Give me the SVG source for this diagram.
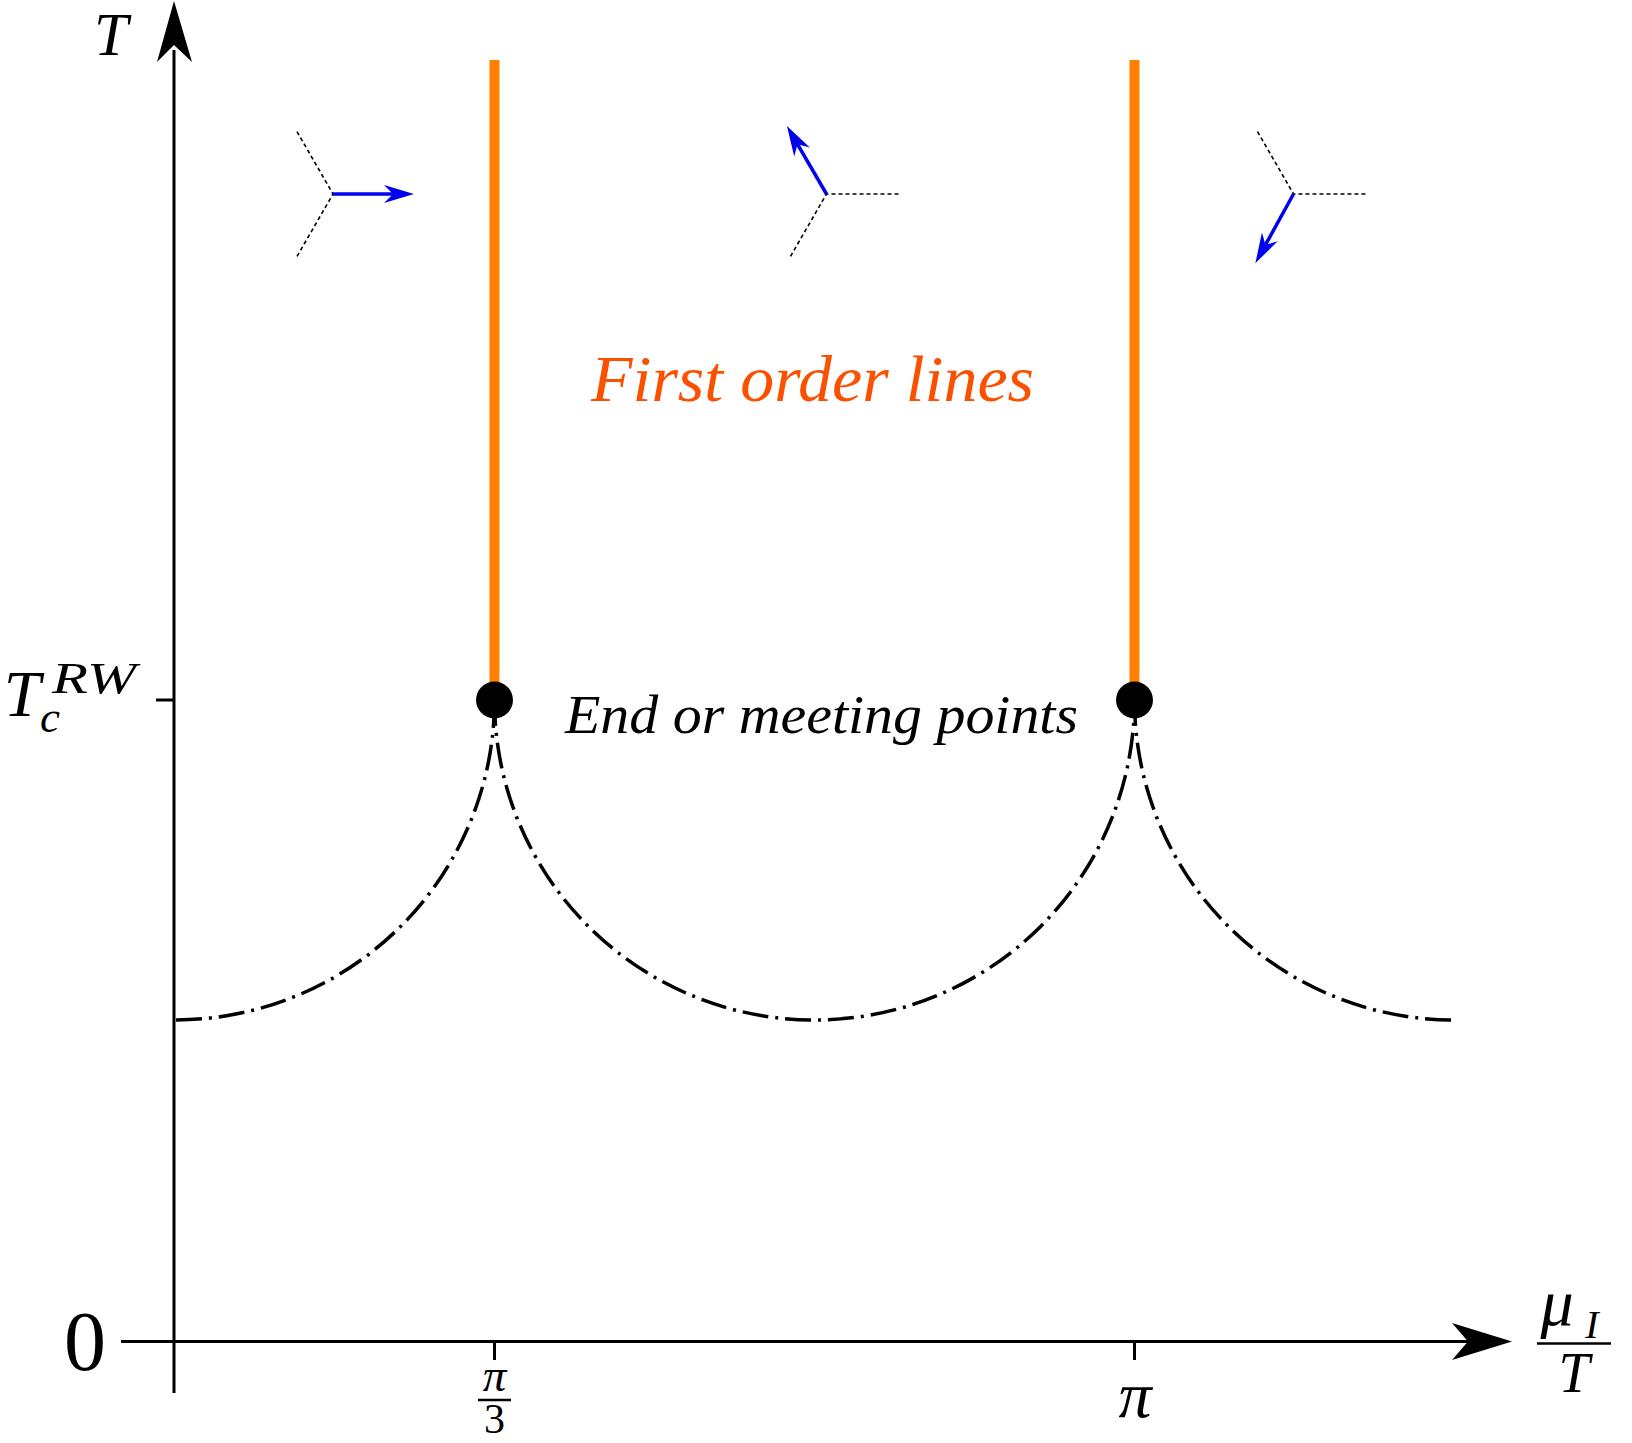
<svg xmlns="http://www.w3.org/2000/svg" width="1632" height="1443" viewBox="0 0 1632 1443">
<defs>
<style>
.ax{stroke:#000;stroke-width:3;fill:none}
.arm{stroke:#000;stroke-width:1.6;stroke-dasharray:4 3;fill:none}
.vec{stroke:#0000EE;stroke-width:3.5;fill:none;marker-end:url(#bh)}
.fo{stroke:#FF8000;stroke-width:10;fill:none}
.dd{stroke:#000;stroke-width:3.5;fill:none;stroke-dasharray:26 7 3 7}
.m{font-family:"Liberation Serif",serif;font-style:italic;fill:#000}
.r{font-family:"Liberation Serif",serif;fill:#000}
</style>
<marker id="bh" markerUnits="userSpaceOnUse" viewBox="0 -10 31 20" refX="10" refY="0" markerWidth="31" markerHeight="20" orient="auto" overflow="visible">
<path d="M0,-9 L30,0 L0,9 L9,0 Z" fill="#0000EE"/>
</marker>
</defs>
<rect width="1632" height="1443" fill="#fff"/>
<g id="axes">
<line class="ax" x1="174" y1="1393" x2="174" y2="50"/>
<path d="M174,1 L192,62 L174,45 L157,62 Z" fill="#000"/>
<line class="ax" x1="121" y1="1341.5" x2="1470" y2="1341.5"/>
<path d="M1512,1341.5 L1452,1323 L1468,1341.5 L1452,1360 Z" fill="#000"/>
<line class="ax" x1="156" y1="700" x2="174" y2="700"/>
<line class="ax" x1="494.5" y1="1341.5" x2="494.5" y2="1360"/>
<line class="ax" x1="1134.5" y1="1341.5" x2="1134.5" y2="1360"/>
</g>
<g id="labels">
<text class="m" x="111" y="55" font-size="61" text-anchor="middle">T</text>
<text class="m" x="22" y="716" font-size="66" text-anchor="middle">T</text>
<text class="m" x="52" y="693" font-size="45" textLength="84" lengthAdjust="spacingAndGlyphs">RW</text>
<text class="m" x="40" y="732" font-size="45">c</text>
<text class="r" x="85" y="1370" font-size="84" text-anchor="middle">0</text>
<text class="m" x="494.5" y="1391" font-size="47" text-anchor="middle">π</text>
<line class="ax" x1="478" y1="1400" x2="511" y2="1400" style="stroke-width:2.5"/>
<text class="r" x="494.5" y="1433" font-size="42" text-anchor="middle">3</text>
<text class="m" x="1135" y="1417" font-size="66" text-anchor="middle">π</text>
<text class="m" x="1557" y="1325" font-size="66" text-anchor="middle">μ</text>
<text class="m" x="1592" y="1338" font-size="40" text-anchor="middle">I</text>
<line class="ax" x1="1537" y1="1343.5" x2="1611" y2="1343.5" style="stroke-width:2.7"/>
<text class="m" x="1574" y="1392" font-size="56" text-anchor="middle">T</text>
</g>
<g id="connectors">
<path class="dd" d="M176,1020 A320,320 0 0 0 494.5,700"/>
<path class="dd" d="M494.5,700 A320,320 0 0 0 1134.5,700"/>
<path class="dd" d="M1134.5,700 A320,320 0 0 0 1454,1020"/>
<line class="fo" x1="494.5" y1="60" x2="494.5" y2="700"/>
<line class="fo" x1="1134.5" y1="60" x2="1134.5" y2="700"/>
</g>
<g id="node-left-end">
<circle cx="494.5" cy="700" r="18.5" fill="#000"/>
</g>
<g id="node-right-end">
<circle cx="1134.5" cy="700" r="18.5" fill="#000"/>
</g>
<g id="node-text-first-order">
<text x="591" y="401" font-size="66" textLength="443" lengthAdjust="spacingAndGlyphs" style="font-family:'Liberation Serif',serif;font-style:italic;fill:#FA5000">First order lines</text>
</g>
<g id="node-text-end">
<text class="m" x="565" y="733" font-size="55" textLength="513" lengthAdjust="spacingAndGlyphs">End or meeting points</text>
</g>
<g id="node-vec1">
<path class="arm" d="M297,131.6 L333,194 L297,256.4"/>
<path class="vec" d="M333,194 L394,194"/>
</g>
<g id="node-vec2">
<path class="arm" d="M898.5,194 L826.5,194 L790.5,256.4"/>
<path class="vec" d="M826.5,194 L797,143.3"/>
</g>
<g id="node-vec3">
<path class="arm" d="M1257.5,131.6 L1293.5,194 L1365.5,194"/>
<path class="vec" d="M1293.5,194 L1265,245.7"/>
</g>
</svg>
